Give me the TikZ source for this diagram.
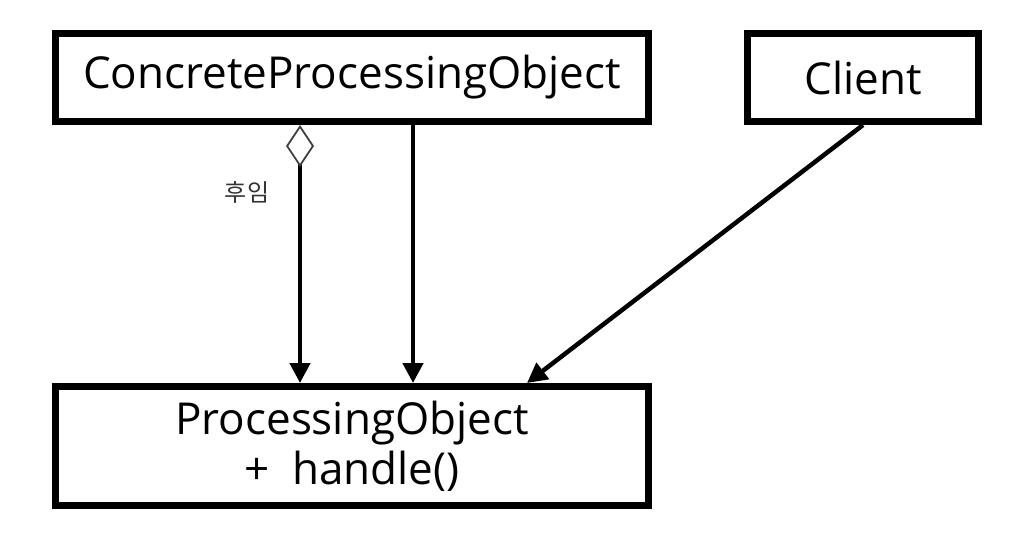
\documentclass[tikz,border=0pt]{standalone}
\usepackage{fontspec}
\setmainfont{Open Sans}
\newfontfamily\kofont{Noto Sans CJK KR}
\usetikzlibrary{arrows.meta}
\begin{document}
\begin{tikzpicture}[x=1pt,y=-1pt,
  box/.style={draw=black, line width=7pt, fill=white, rectangle, inner sep=0pt,
    font=\fontsize{44}{50}\selectfont, align=center},
  conn/.style={line width=4.5pt, -{Triangle[length=20pt,width=20pt]}},
  lbl/.style={font=\kofont\fontsize{24}{28}\selectfont, text=black!80}]
\useasboundingbox (0,0) rectangle (1026,546);
\node[box, minimum width=593pt, minimum height=88pt] (cpo) at (352,77.5) {ConcreteProcessingObject};
\node[box, minimum width=231pt, minimum height=88pt] (cl) at (863,77.5) {Client};
\node[box, minimum width=593pt, minimum height=119pt] (po) at (352,446) {ProcessingObject\\+\ \ handle()};
\coordinate (x1) at (300,0);
\coordinate (x2) at (413,0);
\coordinate (x3) at (527,0);
\draw[conn, {Diamond[open,length=42pt,width=28pt,line width=1.8pt,color=black!75,fill=white]}-{Triangle[length=20pt,width=20pt]}] (cpo.south -| x1) -- (po.north -| x1);
\draw[conn] (cpo.south -| x2) -- (po.north -| x2);
\draw[conn] (cl.south) -- (po.north -| x3);
\node[lbl] (lb) at (247,192) {후임};
\end{tikzpicture}
\end{document}
